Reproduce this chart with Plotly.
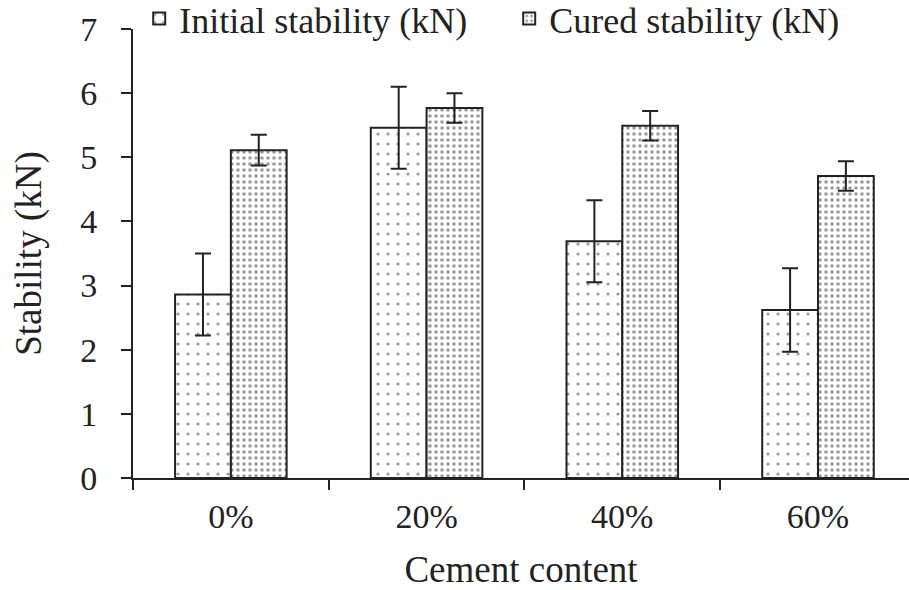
import plotly.graph_objects as go

categories = ["0%", "20%", "40%", "60%"]
initial = [2.86, 5.46, 3.69, 2.62]
initial_err = [0.64, 0.64, 0.64, 0.65]
cured = [5.11, 5.77, 5.49, 4.71]
cured_err = [0.24, 0.23, 0.23, 0.23]

font_family = "Liberation Serif"
ink = "#222222"

fig = go.Figure()
fig.add_trace(go.Bar(
    x=categories, y=initial, name="Initial stability (kN)",
    marker=dict(color="white", line=dict(color=ink, width=2),
                pattern=dict(shape=".", fgcolor="#333333", bgcolor="white", size=10, solidity=0.08)),
    error_y=dict(type="data", array=initial_err, color=ink, thickness=2, width=8),
))
fig.add_trace(go.Bar(
    x=categories, y=cured, name="Cured stability (kN)",
    marker=dict(color="white", line=dict(color=ink, width=2),
                pattern=dict(shape=".", fgcolor="#333333", bgcolor="white", size=6, solidity=0.28)),
    error_y=dict(type="data", array=cured_err, color=ink, thickness=2, width=8),
))

fig.update_layout(
    width=909, height=590,
    margin=dict(l=133, r=0, t=29, b=112, autoexpand=False),
    paper_bgcolor="white", plot_bgcolor="white",
    barmode="group", bargap=0.43, bargroupgap=0,
    font=dict(family=font_family, size=34, color=ink),
    showlegend=True,
    legend=dict(orientation="h", x=0.008, y=1.09, xanchor="left", yanchor="top",
                font=dict(size=36), bgcolor="rgba(0,0,0,0)", entrywidth=325, entrywidthmode="pixels",
                itemwidth=30, tracegroupgap=0),
    xaxis=dict(
        range=[-0.5, 3.465], showline=True, linecolor=ink, linewidth=2,
        ticks="outside", ticklen=10, tickwidth=2, tickcolor=ink, tickson="boundaries",
        showgrid=False, zeroline=False, ticklabelstandoff=7,
        title=dict(text="Cement content", font=dict(size=37), standoff=24),
        tickfont=dict(size=34),
    ),
    yaxis=dict(
        range=[0, 7], dtick=1, showline=True, linecolor=ink, linewidth=2,
        ticks="outside", ticklen=10, tickwidth=2, tickcolor=ink,
        showgrid=False, zeroline=False, ticklabelstandoff=17,
        title=dict(text="Stability (kN)", font=dict(size=37), standoff=27),
        tickfont=dict(size=34),
    ),
)

fig.write_html("out.html")
